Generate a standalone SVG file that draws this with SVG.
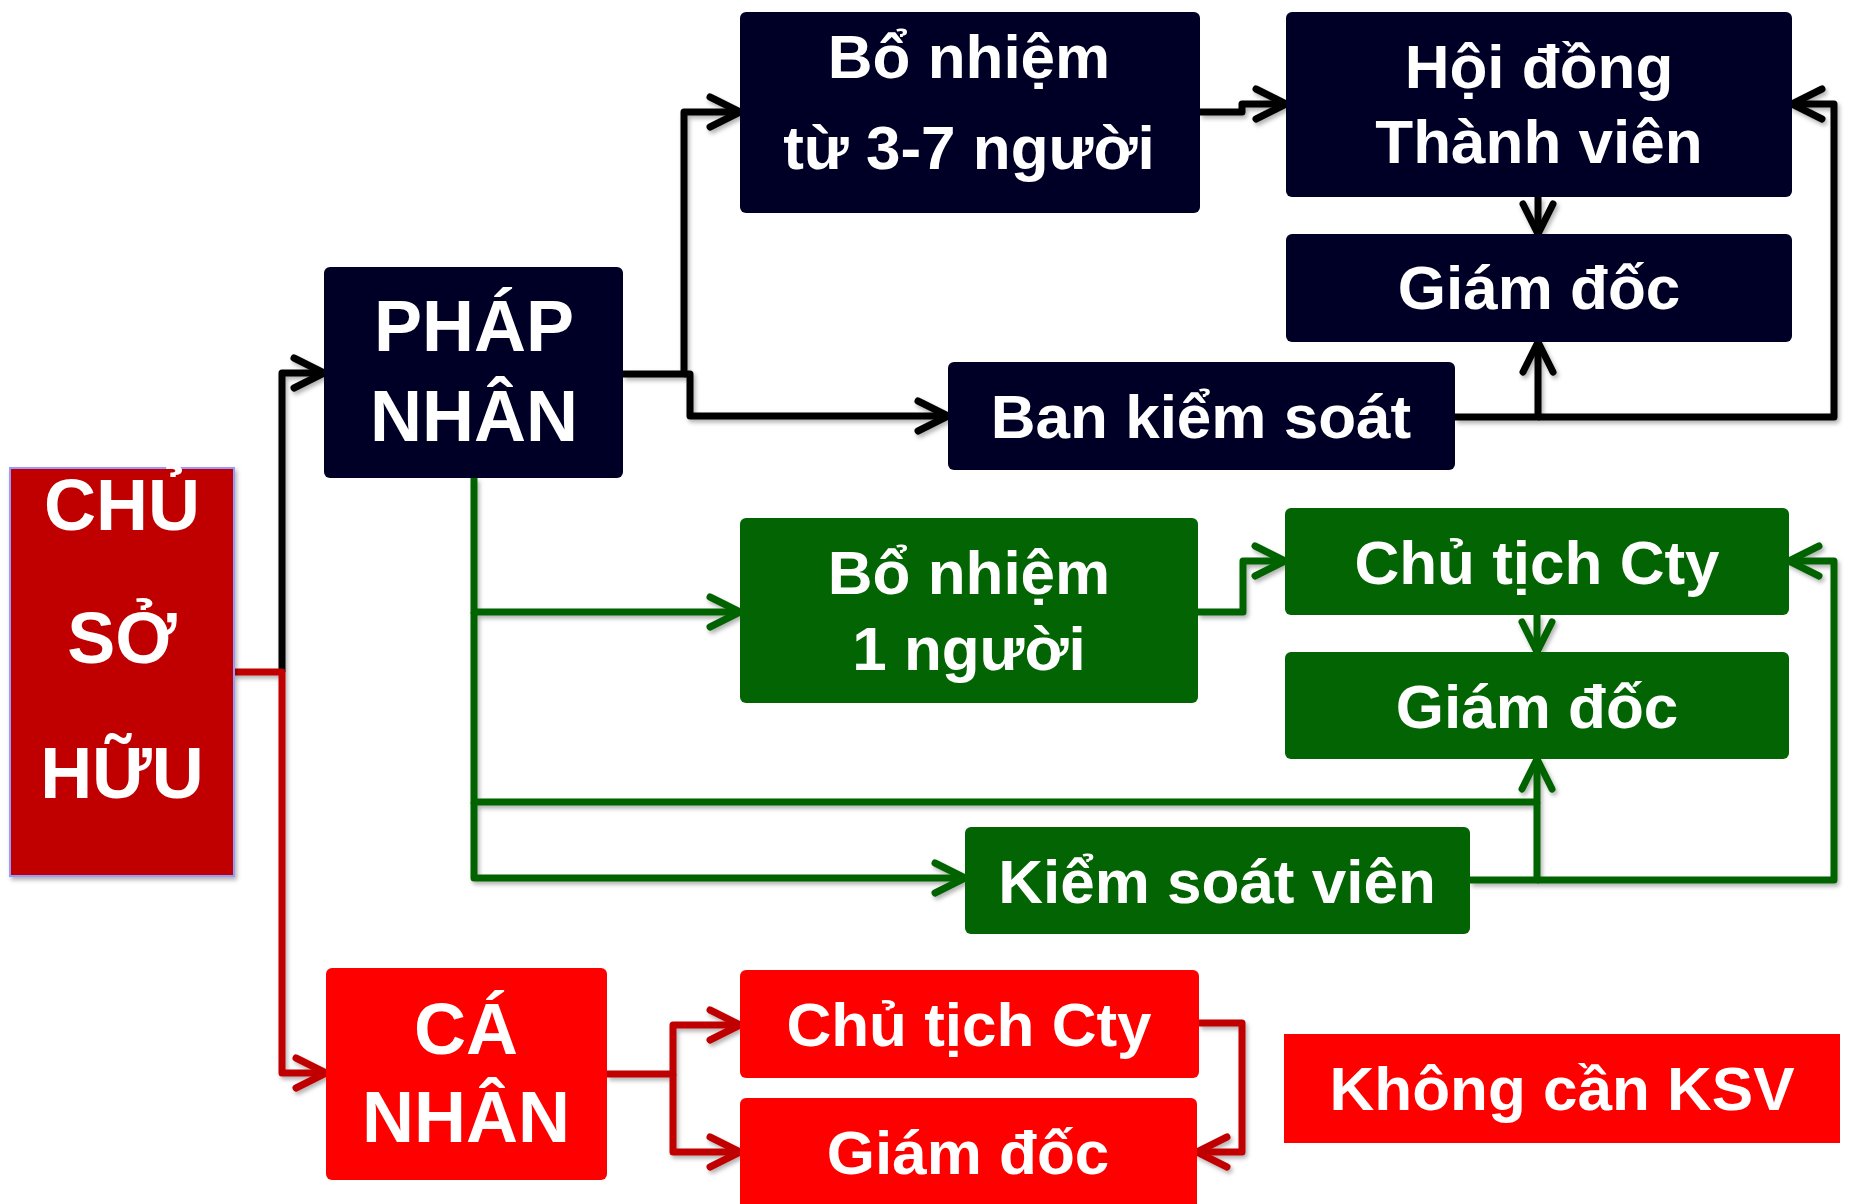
<svg xmlns="http://www.w3.org/2000/svg" width="1850" height="1204" viewBox="0 0 1850 1204">
<style>
.t{font-family:"Liberation Sans",Arial,sans-serif;font-weight:bold;fill:#fff;text-anchor:middle}
.m{font-size:62px}
.b{font-size:72px}
.navy{fill:#000026}
.grn{fill:#036403}
.red{fill:#ff0000}
.ln{fill:none;stroke-width:7;stroke-linejoin:round}
.k{stroke:#000}
.g{stroke:#006400}
.r{stroke:#c00000}
</style>
<defs>
<filter id="sh" x="-5%" y="-5%" width="110%" height="110%">
<feDropShadow dx="2" dy="3" stdDeviation="2" flood-color="#000" flood-opacity="0.3"/>
</filter>
<marker id="ak" viewBox="-40 -20 46 40" refX="0" refY="0" markerWidth="46" markerHeight="40" markerUnits="userSpaceOnUse" orient="auto">
<path d="M-30,-15 L0,0 L-30,15" fill="none" stroke="#000" stroke-width="7" stroke-linecap="round" stroke-linejoin="round"/>
</marker>
<marker id="ag" viewBox="-40 -20 46 40" refX="0" refY="0" markerWidth="46" markerHeight="40" markerUnits="userSpaceOnUse" orient="auto">
<path d="M-30,-15 L0,0 L-30,15" fill="none" stroke="#006400" stroke-width="7" stroke-linecap="round" stroke-linejoin="round"/>
</marker>
<marker id="ar" viewBox="-40 -20 46 40" refX="0" refY="0" markerWidth="46" markerHeight="40" markerUnits="userSpaceOnUse" orient="auto">
<path d="M-30,-15 L0,0 L-30,15" fill="none" stroke="#c00000" stroke-width="7" stroke-linecap="round" stroke-linejoin="round"/>
</marker>
</defs>
<rect width="1850" height="1204" fill="#fff"/>

<g id="connectors" filter="url(#sh)">
<path class="ln k" d="M282,672 V373 H324" marker-end="url(#ak)"/>
<path class="ln k" d="M623,374 H684 V112 H740" marker-end="url(#ak)"/>
<path class="ln k" d="M684,374 H690 V416 H948" marker-end="url(#ak)"/>
<path class="ln k" d="M1200,112 H1242 V104 H1286" marker-end="url(#ak)"/>
<path class="ln k" d="M1538,197 V234" marker-end="url(#ak)"/>
<path class="ln k" d="M1455,417 H1538 V342" marker-end="url(#ak)"/>
<path class="ln k" d="M1538,417 H1834 V104 H1792" marker-end="url(#ak)"/>

<path class="ln g" d="M474,478 V612 H740" marker-end="url(#ag)"/>
<path class="ln g" d="M1198,612 H1243 V561 H1285" marker-end="url(#ag)"/>
<path class="ln g" d="M1537,615 V652" marker-end="url(#ag)"/>
<path class="ln g" d="M474,612 V802 H1537 V759" marker-end="url(#ag)"/>
<path class="ln g" d="M474,802 V878 H965" marker-end="url(#ag)"/>
<path class="ln g" d="M1470,880 H1537 V802"/>
<path class="ln g" d="M1537,880 H1834 V561 H1789" marker-end="url(#ag)"/>

<path class="ln r" d="M234,672 H282 V1073 H326" marker-end="url(#ar)"/>
<path class="ln r" d="M607,1074 H673 V1025 H740" marker-end="url(#ar)"/>
<path class="ln r" d="M673,1074 V1152 H740" marker-end="url(#ar)"/>
<path class="ln r" d="M1199,1023 H1242 V1152 H1197" marker-end="url(#ar)"/>
</g>

<g id="chu-so-huu">
<rect x="10" y="468" width="224" height="408" fill="#c00000" stroke="#9999ff" stroke-width="2" filter="url(#sh)"/>
<text class="t b" x="122" y="530">CHỦ</text>
<text class="t b" x="122" y="663">SỞ</text>
<text class="t b" x="122" y="798">HỮU</text>
</g>

<g id="phap-nhan">
<rect class="navy" x="324" y="267" width="299" height="211" rx="6"/>
<text class="t b" x="474" y="351">PHÁP</text>
<text class="t b" x="474" y="441">NHÂN</text>
</g>

<g id="bo-nhiem-3-7">
<rect class="navy" x="740" y="12" width="460" height="201" rx="6"/>
<text class="t m" x="969" y="78">Bổ nhiệm</text>
<text class="t m" x="969" y="169">từ 3-7 người</text>
</g>

<g id="hoi-dong-thanh-vien">
<rect class="navy" x="1286" y="12" width="506" height="185" rx="6"/>
<text class="t m" x="1539" y="88">Hội đồng</text>
<text class="t m" x="1539" y="163">Thành viên</text>
</g>

<g id="giam-doc-1">
<rect class="navy" x="1286" y="234" width="506" height="108" rx="6"/>
<text class="t m" x="1539" y="309">Giám đốc</text>
</g>

<g id="ban-kiem-soat">
<rect class="navy" x="948" y="362" width="507" height="108" rx="6"/>
<text class="t m" x="1201" y="438">Ban kiểm soát</text>
</g>

<g id="bo-nhiem-1">
<rect class="grn" x="740" y="518" width="458" height="185" rx="6"/>
<text class="t m" x="969" y="594">Bổ nhiệm</text>
<text class="t m" x="969" y="670">1 người</text>
</g>

<g id="chu-tich-2">
<rect class="grn" x="1285" y="508" width="504" height="107" rx="6"/>
<text class="t m" x="1537" y="584">Chủ tịch Cty</text>
</g>

<g id="giam-doc-2">
<rect class="grn" x="1285" y="652" width="504" height="107" rx="6"/>
<text class="t m" x="1537" y="728">Giám đốc</text>
</g>

<g id="kiem-soat-vien">
<rect class="grn" x="965" y="827" width="505" height="107" rx="6"/>
<text class="t m" x="1217" y="903">Kiểm soát viên</text>
</g>

<g id="ca-nhan">
<rect class="red" x="326" y="968" width="281" height="212" rx="6"/>
<text class="t b" x="466" y="1054">CÁ</text>
<text class="t b" x="466" y="1142">NHÂN</text>
</g>

<g id="chu-tich-3">
<rect class="red" x="740" y="970" width="459" height="108" rx="6"/>
<text class="t m" x="969" y="1046">Chủ tịch Cty</text>
</g>

<g id="giam-doc-3">
<rect class="red" x="740" y="1098" width="457" height="112" rx="6"/>
<text class="t m" x="968" y="1174">Giám đốc</text>
</g>

<g id="khong-can-ksv">
<rect class="red" x="1284" y="1034" width="556" height="109"/>
<text class="t m" x="1562" y="1110">Không cần KSV</text>
</g>
</svg>
